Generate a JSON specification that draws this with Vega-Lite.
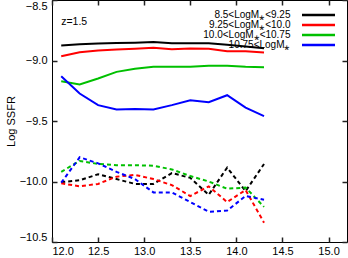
{
  "$schema": "https://vega.github.io/schema/vega-lite/v6.json",
  "width": 295,
  "height": 242,
  "autosize": {"type": "none"},
  "padding": {"left": 52, "top": 0, "right": 1, "bottom": 16},
  "background": "white",
  "config": {
    "view": {"stroke": "black", "strokeWidth": 1},
    "font": "Liberation Sans",
    "axis": {"domain": false, "grid": false, "labelColor": "black", "labelFont": "Liberation Sans", "labelFontSize": 11, "titleFont": "Liberation Sans", "titleColor": "black", "titleFontWeight": "normal", "titleFontSize": 11}
  },
  "data": {"values": [
    {"m": "8.5<LogM⁎<9.25", "t": "sf", "x": 12.1, "y": -8.876},
    {"m": "8.5<LogM⁎<9.25", "t": "sf", "x": 12.3, "y": -8.866},
    {"m": "8.5<LogM⁎<9.25", "t": "sf", "x": 12.5, "y": -8.860},
    {"m": "8.5<LogM⁎<9.25", "t": "sf", "x": 12.7, "y": -8.856},
    {"m": "8.5<LogM⁎<9.25", "t": "sf", "x": 12.9, "y": -8.853},
    {"m": "8.5<LogM⁎<9.25", "t": "sf", "x": 13.1, "y": -8.848},
    {"m": "8.5<LogM⁎<9.25", "t": "sf", "x": 13.3, "y": -8.857},
    {"m": "8.5<LogM⁎<9.25", "t": "sf", "x": 13.5, "y": -8.857},
    {"m": "8.5<LogM⁎<9.25", "t": "sf", "x": 13.7, "y": -8.858},
    {"m": "8.5<LogM⁎<9.25", "t": "sf", "x": 13.9, "y": -8.870},
    {"m": "8.5<LogM⁎<9.25", "t": "sf", "x": 14.1, "y": -8.884},
    {"m": "8.5<LogM⁎<9.25", "t": "sf", "x": 14.3, "y": -8.898},
    {"m": "9.25<LogM⁎<10.0", "t": "sf", "x": 12.1, "y": -8.965},
    {"m": "9.25<LogM⁎<10.0", "t": "sf", "x": 12.3, "y": -8.931},
    {"m": "9.25<LogM⁎<10.0", "t": "sf", "x": 12.5, "y": -8.917},
    {"m": "9.25<LogM⁎<10.0", "t": "sf", "x": 12.7, "y": -8.909},
    {"m": "9.25<LogM⁎<10.0", "t": "sf", "x": 12.9, "y": -8.903},
    {"m": "9.25<LogM⁎<10.0", "t": "sf", "x": 13.1, "y": -8.895},
    {"m": "9.25<LogM⁎<10.0", "t": "sf", "x": 13.3, "y": -8.907},
    {"m": "9.25<LogM⁎<10.0", "t": "sf", "x": 13.5, "y": -8.901},
    {"m": "9.25<LogM⁎<10.0", "t": "sf", "x": 13.7, "y": -8.903},
    {"m": "9.25<LogM⁎<10.0", "t": "sf", "x": 13.9, "y": -8.923},
    {"m": "9.25<LogM⁎<10.0", "t": "sf", "x": 14.1, "y": -8.923},
    {"m": "9.25<LogM⁎<10.0", "t": "sf", "x": 14.3, "y": -8.934},
    {"m": "10.0<LogM⁎<10.75", "t": "sf", "x": 12.1, "y": -9.171},
    {"m": "10.0<LogM⁎<10.75", "t": "sf", "x": 12.3, "y": -9.198},
    {"m": "10.0<LogM⁎<10.75", "t": "sf", "x": 12.5, "y": -9.149},
    {"m": "10.0<LogM⁎<10.75", "t": "sf", "x": 12.7, "y": -9.094},
    {"m": "10.0<LogM⁎<10.75", "t": "sf", "x": 12.9, "y": -9.069},
    {"m": "10.0<LogM⁎<10.75", "t": "sf", "x": 13.1, "y": -9.052},
    {"m": "10.0<LogM⁎<10.75", "t": "sf", "x": 13.3, "y": -9.052},
    {"m": "10.0<LogM⁎<10.75", "t": "sf", "x": 13.5, "y": -9.052},
    {"m": "10.0<LogM⁎<10.75", "t": "sf", "x": 13.7, "y": -9.044},
    {"m": "10.0<LogM⁎<10.75", "t": "sf", "x": 13.9, "y": -9.044},
    {"m": "10.0<LogM⁎<10.75", "t": "sf", "x": 14.1, "y": -9.052},
    {"m": "10.0<LogM⁎<10.75", "t": "sf", "x": 14.3, "y": -9.055},
    {"m": "10.75<LogM⁎", "t": "sf", "x": 12.1, "y": -9.13},
    {"m": "10.75<LogM⁎", "t": "sf", "x": 12.3, "y": -9.273},
    {"m": "10.75<LogM⁎", "t": "sf", "x": 12.5, "y": -9.369},
    {"m": "10.75<LogM⁎", "t": "sf", "x": 12.7, "y": -9.405},
    {"m": "10.75<LogM⁎", "t": "sf", "x": 12.9, "y": -9.400},
    {"m": "10.75<LogM⁎", "t": "sf", "x": 13.1, "y": -9.405},
    {"m": "10.75<LogM⁎", "t": "sf", "x": 13.3, "y": -9.369},
    {"m": "10.75<LogM⁎", "t": "sf", "x": 13.5, "y": -9.328},
    {"m": "10.75<LogM⁎", "t": "sf", "x": 13.7, "y": -9.345},
    {"m": "10.75<LogM⁎", "t": "sf", "x": 13.9, "y": -9.287},
    {"m": "10.75<LogM⁎", "t": "sf", "x": 14.1, "y": -9.390},
    {"m": "10.75<LogM⁎", "t": "sf", "x": 14.3, "y": -9.460},
    {"m": "8.5<LogM⁎<9.25", "t": "q", "x": 12.1, "y": -10.005},
    {"m": "8.5<LogM⁎<9.25", "t": "q", "x": 12.3, "y": -9.99},
    {"m": "8.5<LogM⁎<9.25", "t": "q", "x": 12.5, "y": -9.94},
    {"m": "8.5<LogM⁎<9.25", "t": "q", "x": 12.7, "y": -9.98},
    {"m": "8.5<LogM⁎<9.25", "t": "q", "x": 12.9, "y": -10.02},
    {"m": "8.5<LogM⁎<9.25", "t": "q", "x": 13.1, "y": -10.02},
    {"m": "8.5<LogM⁎<9.25", "t": "q", "x": 13.3, "y": -9.93},
    {"m": "8.5<LogM⁎<9.25", "t": "q", "x": 13.5, "y": -9.97},
    {"m": "8.5<LogM⁎<9.25", "t": "q", "x": 13.7, "y": -10.11},
    {"m": "8.5<LogM⁎<9.25", "t": "q", "x": 13.9, "y": -9.885},
    {"m": "8.5<LogM⁎<9.25", "t": "q", "x": 14.1, "y": -10.08},
    {"m": "8.5<LogM⁎<9.25", "t": "q", "x": 14.3, "y": -9.855},
    {"m": "9.25<LogM⁎<10.0", "t": "q", "x": 12.1, "y": -10.015},
    {"m": "9.25<LogM⁎<10.0", "t": "q", "x": 12.3, "y": -10.04},
    {"m": "9.25<LogM⁎<10.0", "t": "q", "x": 12.5, "y": -10.02},
    {"m": "9.25<LogM⁎<10.0", "t": "q", "x": 12.7, "y": -9.96},
    {"m": "9.25<LogM⁎<10.0", "t": "q", "x": 12.9, "y": -9.945},
    {"m": "9.25<LogM⁎<10.0", "t": "q", "x": 13.1, "y": -9.98},
    {"m": "9.25<LogM⁎<10.0", "t": "q", "x": 13.3, "y": -10.03},
    {"m": "9.25<LogM⁎<10.0", "t": "q", "x": 13.5, "y": -10.12},
    {"m": "9.25<LogM⁎<10.0", "t": "q", "x": 13.7, "y": -10.04},
    {"m": "9.25<LogM⁎<10.0", "t": "q", "x": 13.9, "y": -10.17},
    {"m": "9.25<LogM⁎<10.0", "t": "q", "x": 14.1, "y": -10.07},
    {"m": "9.25<LogM⁎<10.0", "t": "q", "x": 14.3, "y": -10.34},
    {"m": "10.0<LogM⁎<10.75", "t": "q", "x": 12.1, "y": -9.92},
    {"m": "10.0<LogM⁎<10.75", "t": "q", "x": 12.3, "y": -9.83},
    {"m": "10.0<LogM⁎<10.75", "t": "q", "x": 12.5, "y": -9.855},
    {"m": "10.0<LogM⁎<10.75", "t": "q", "x": 12.7, "y": -9.865},
    {"m": "10.0<LogM⁎<10.75", "t": "q", "x": 12.9, "y": -9.865},
    {"m": "10.0<LogM⁎<10.75", "t": "q", "x": 13.1, "y": -9.87},
    {"m": "10.0<LogM⁎<10.75", "t": "q", "x": 13.3, "y": -9.90},
    {"m": "10.0<LogM⁎<10.75", "t": "q", "x": 13.5, "y": -9.955},
    {"m": "10.0<LogM⁎<10.75", "t": "q", "x": 13.7, "y": -10.0},
    {"m": "10.0<LogM⁎<10.75", "t": "q", "x": 13.9, "y": -10.06},
    {"m": "10.0<LogM⁎<10.75", "t": "q", "x": 14.1, "y": -10.05},
    {"m": "10.0<LogM⁎<10.75", "t": "q", "x": 14.3, "y": -10.21},
    {"m": "10.75<LogM⁎", "t": "q", "x": 12.1, "y": -10.01},
    {"m": "10.75<LogM⁎", "t": "q", "x": 12.3, "y": -9.80},
    {"m": "10.75<LogM⁎", "t": "q", "x": 12.5, "y": -9.85},
    {"m": "10.75<LogM⁎", "t": "q", "x": 12.7, "y": -9.92},
    {"m": "10.75<LogM⁎", "t": "q", "x": 12.9, "y": -9.98},
    {"m": "10.75<LogM⁎", "t": "q", "x": 13.1, "y": -10.09},
    {"m": "10.75<LogM⁎", "t": "q", "x": 13.3, "y": -10.09},
    {"m": "10.75<LogM⁎", "t": "q", "x": 13.5, "y": -10.17},
    {"m": "10.75<LogM⁎", "t": "q", "x": 13.7, "y": -10.25},
    {"m": "10.75<LogM⁎", "t": "q", "x": 13.9, "y": -10.24},
    {"m": "10.75<LogM⁎", "t": "q", "x": 14.1, "y": -10.12},
    {"m": "10.75<LogM⁎", "t": "q", "x": 14.3, "y": -10.15}
  ]},
  "layer": [
    {
      "transform": [{"filter": "datum.t == 'sf'"}],
      "mark": {"type": "line", "strokeWidth": 2},
      "encoding": {
        "x": {"field": "x", "type": "quantitative", "scale": {"domain": [12, 15.2], "nice": false, "zero": false},
          "axis": {"orient": "bottom", "title": null, "format": ".1f", "offset": -5, "zindex": 3, "tickColor": "#222222", "tickWidth": 1.5,
            "values": [12.0, 12.5, 13.0, 13.5, 14.0, 14.5, 15.0],
            "tickSize": 5, "labelPadding": 3}},
        "y": {"field": "y", "type": "quantitative", "scale": {"domain": [-10.5, -8.5], "nice": false, "zero": false},
          "axis": {"orient": "left", "title": "Log SSFR", "titleX": -41, "titleY": 121, "format": ".1f", "labelFlush": true, "offset": -5, "zindex": 3, "tickColor": "#222222", "tickWidth": 1.5,
            "values": [-10.5, -10.0, -9.5, -9.0, -8.5],
            "tickSize": 5, "labelPadding": 5}},
        "color": {
          "field": "m", "type": "nominal",
          "scale": {"domain": ["8.5<LogM⁎<9.25", "9.25<LogM⁎<10.0", "10.0<LogM⁎<10.75", "10.75<LogM⁎"], "range": ["#000000", "#ff0000", "#00c000", "#0000ff"]},
          "legend": {"orient": "none", "legendX": 261.5, "legendY": 10, "title": null, "symbolType": "M-16.5,0H16.5", "symbolSize": 4, "symbolStrokeWidth": 2.5, "symbolOpacity": 1, "labelAlign": "right", "labelOffset": -33, "labelFontSize": 10, "labelFont": "Liberation Sans", "labelColor": "black", "rowPadding": -1.5, "padding": 0, "labelLimit": 300}
        }
      }
    },
    {
      "transform": [{"filter": "datum.t == 'q'"}],
      "mark": {"type": "line", "strokeWidth": 2, "strokeDash": [4, 3]},
      "encoding": {
        "x": {"field": "x", "type": "quantitative",
          "axis": {"orient": "top", "title": null, "labels": false, "tickSize": 5, "offset": -5, "zindex": 3, "tickColor": "#222222", "tickWidth": 1.5,
            "values": [12.0, 12.5, 13.0, 13.5, 14.0, 14.5, 15.0]}},
        "y": {"field": "y", "type": "quantitative",
          "axis": {"orient": "right", "title": null, "labels": false, "tickSize": 5, "offset": -5, "zindex": 3, "tickColor": "#222222", "tickWidth": 1.5,
            "values": [-10.5, -10.0, -9.5, -9.0, -8.5]}},
        "color": {
          "field": "m", "type": "nominal",
          "legend": {"orient": "none", "legendX": 261.5, "legendY": 10, "title": null, "symbolType": "M-16.5,0H16.5", "symbolSize": 4, "symbolStrokeWidth": 2.5, "symbolOpacity": 1, "labelAlign": "right", "labelOffset": -33, "labelFontSize": 10, "labelFont": "Liberation Sans", "labelColor": "black", "rowPadding": -1.5, "padding": 0, "labelLimit": 300}
        }
      }
    },
    {
      "data": {"values": [{"label": "z=1.5", "lx": 12.1, "ly": -8.678}]},
      "mark": {"type": "text", "align": "left", "baseline": "middle", "fontSize": 10.5, "font": "Liberation Sans", "color": "black"},
      "encoding": {
        "text": {"field": "label"},
        "x": {"field": "lx", "type": "quantitative", "axis": null},
        "y": {"field": "ly", "type": "quantitative", "axis": null}
      }
    }
  ],
  "resolve": {"axis": {"x": "independent", "y": "independent"}}
}
